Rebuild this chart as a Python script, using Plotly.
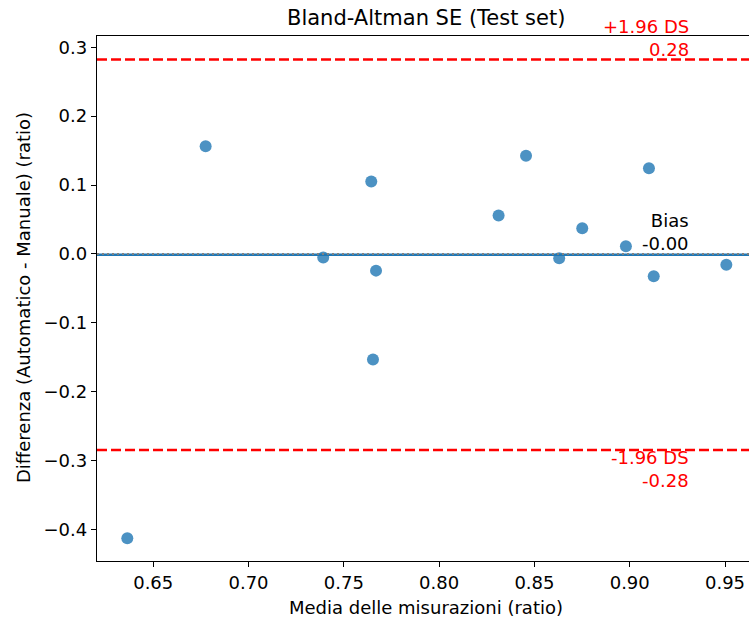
import numpy as np
import plotly.graph_objects as go

# Data
media = [0.6364, 0.6775, 0.7392, 0.7644, 0.7669, 0.7653, 0.8312,
         0.8456, 0.8630, 0.8751, 0.8980, 0.9101, 0.9126, 0.9507]
differenza = [-0.4128, 0.1564, -0.0054, 0.1051, -0.0243, -0.1532, 0.0557,
              0.1424, -0.0064, 0.0372, 0.0110, 0.1244, -0.0326, -0.0156]

x_ticks = [0.65, 0.70, 0.75, 0.80, 0.85, 0.90, 0.95]
y_ticks = [-0.4, -0.3, -0.2, -0.1, 0.0, 0.1, 0.2, 0.3]

title = "Bland-Altman SE (Test set)"
x_label = "Media delle misurazioni (ratio)"
y_label = "Differenza (Automatico - Manuale) (ratio)"

d = np.array(differenza)
bias = float(d.mean())
sd = float(d.std(ddof=1))
upper = bias + 1.96 * sd
lower = bias - 1.96 * sd
x_text = max(media) * 0.98

FONT = "DejaVu Sans"
W, H = 749, 619
ML, MT, MB, MR = 97, 36, 58, 0
pw = W - ML - MR
ph = H - MT - MB


def to_plot(px, py):
    """figure pixel position -> plot-area paper coords"""
    return (px - ML) / pw, 1 - (py - MT) / ph


fig = go.Figure()
fig.add_trace(go.Scatter(
    x=media, y=differenza, mode="markers",
    marker=dict(color="#1f77b4", size=12, opacity=0.8, line=dict(width=0)),
    showlegend=False, hoverinfo="skip"))

shapes = [
    dict(type="line", xref="paper", x0=0, x1=1, yref="y", y0=bias, y1=bias,
         line=dict(color="#1f77b4", width=2.5), layer="above"),
    dict(type="line", xref="paper", x0=0, x1=1, yref="y", y0=0, y1=0,
         line=dict(color="gray", width=2, dash="2px,3px"), layer="above"),
    dict(type="line", xref="paper", x0=0, x1=1, yref="y", y0=upper, y1=upper,
         line=dict(color="red", width=2.5, dash="10px,4px"), layer="above"),
    dict(type="line", xref="paper", x0=0, x1=1, yref="y", y0=lower, y1=lower,
         line=dict(color="red", width=2.5, dash="10px,4px"), layer="above"),
]

tx, ty = to_plot((ML + 755) / 2, 18)
lx, ly = to_plot((ML + 755) / 2, 607)
yx, yy = to_plot(23, 298)

annotations = [
    dict(x=x_text, y=upper, xref="x", yref="y", xanchor="right", yanchor="bottom",
         text=f"+1.96 DS<br>{upper:.2f}", showarrow=False, align="right",
         font=dict(family=FONT, size=18, color="red"), borderpad=0, yshift=-1),
    dict(x=x_text, y=lower, xref="x", yref="y", xanchor="right", yanchor="top",
         text=f"-1.96 DS<br>{lower:.2f}", showarrow=False, align="right",
         font=dict(family=FONT, size=18, color="red"), borderpad=0, yshift=4),
    dict(x=x_text, y=bias, xref="x", yref="y", xanchor="right", yanchor="bottom",
         text=f"Bias<br>{bias:.2f}", showarrow=False, align="right",
         font=dict(family=FONT, size=18, color="black"), borderpad=0),
    dict(x=tx, y=ty, xref="paper", yref="paper", xanchor="center", yanchor="middle",
         text=title, showarrow=False, font=dict(family=FONT, size=21, color="black")),
    dict(x=lx, y=ly, xref="paper", yref="paper", xanchor="center", yanchor="middle",
         text=x_label, showarrow=False, font=dict(family=FONT, size=18, color="black")),
    dict(x=yx, y=yy, xref="paper", yref="paper", xanchor="center", yanchor="middle",
         text=y_label, showarrow=False, textangle=-90,
         font=dict(family=FONT, size=18, color="black")),
]

fig.update_layout(
    width=W, height=H,
    margin=dict(l=ML, r=MR, t=MT, b=MB, pad=0),
    paper_bgcolor="white", plot_bgcolor="white",
    font=dict(family=FONT, size=18, color="black"),
    shapes=shapes, annotations=annotations,
    showlegend=False,
)

fig.update_xaxes(
    range=[0.6205, 0.65 + (W - 153.3) / 1905.7],
    tickvals=x_ticks, ticktext=[f"{v:.2f}" for v in x_ticks],
    showgrid=False, zeroline=False,
    showline=True, linecolor="black", linewidth=1.3, mirror=True,
    ticks="outside", ticklen=5, tickwidth=1.2, tickcolor="black",
    tickfont=dict(family=FONT, size=18, color="black"),
)
fig.update_yaxes(
    range=[-0.4458, 0.3163],
    tickvals=y_ticks, ticktext=[f"{v:.1f}".replace("-", "\u2212") for v in y_ticks],
    showgrid=False, zeroline=False,
    showline=True, linecolor="black", linewidth=1.3, mirror=False,
    ticks="outside", ticklen=5, tickwidth=1.2, tickcolor="black",
    tickfont=dict(family=FONT, size=18, color="black"),
)

fig.write_html(
    "out.html",
    config={"displayModeBar": False},
    post_script="document.body.style.margin='0';document.body.style.overflow='hidden';",
)
